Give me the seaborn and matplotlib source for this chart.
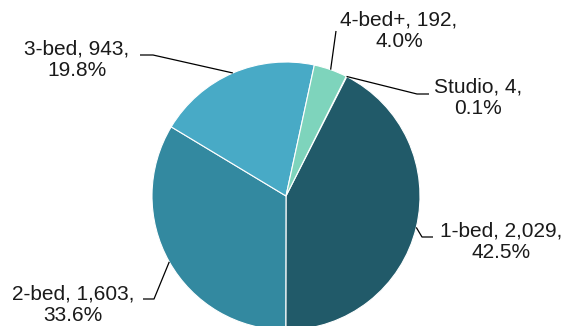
import numpy as np
import matplotlib
matplotlib.use("Agg")
import matplotlib.pyplot as plt
import seaborn as sns

# Dwelling mix by number of bedrooms
categories = ["Studio", "1-bed", "2-bed", "3-bed", "4-bed+"]
units = [4, 2029, 1603, 943, 192]
shares = [0.1, 42.5, 33.6, 19.8, 4.0]
colors = ["#1f5a69", "#215a69", "#3389a0", "#48aac6", "#7ed4bc"]

sns.set_theme(style="white")
plt.rcParams["font.family"] = ["Liberation Sans", "DejaVu Sans"]

W, H = 563, 326
fig = plt.figure(figsize=(W / 100, H / 100), dpi=100)
ax = fig.add_axes([0, 0, 1, 1])

cx, cy, r = 286, H - 196, 134
start = 63.3
ax.pie(units, colors=colors, startangle=start, counterclock=False,
       center=(cx, cy), radius=r, frame=True,
       wedgeprops=dict(edgecolor="white", linewidth=0.8))
ax.set_xlim(0, W)
ax.set_ylim(0, H)
ax.set_aspect("equal")
ax.axis("off")

# label boxes (pixel coords from top-left) and leader elbows
label_pos = {
    "Studio": (478, 98),
    "1-bed": (501, 242),
    "2-bed": (73, 305),
    "3-bed": (77, 60),
    "4-bed+": (399, 31),
}
elbows = {
    "Studio": [(429, 94), (417, 94)],
    "1-bed": [(433, 237), (422, 237)],
    "2-bed": [(143, 299), (154, 299)],
    "3-bed": [(140, 55), (153, 55)],
    "4-bed+": [(336, 31)],
}

total = sum(units)
angle = start
for cat, n, pct in zip(categories, units, shares):
    span = 360.0 * n / total
    mid = np.deg2rad(angle - span / 2)
    angle -= span
    ex, ey = cx + r * np.cos(mid), cy + r * np.sin(mid)
    pts = [(x, H - y) for x, y in elbows[cat]] + [(ex, ey)]
    xs, ys = zip(*pts)
    ax.plot(xs, ys, color="black", lw=0.9, solid_capstyle="butt")
    tx, ty = label_pos[cat]
    ax.text(tx, H - ty, f"{cat}, {n:,},\n{pct:.1f}%", ha="center", va="center",
            multialignment="center", fontsize=15, color="#1a1a1a", linespacing=1.15)

fig.savefig("out.png", dpi=100)
